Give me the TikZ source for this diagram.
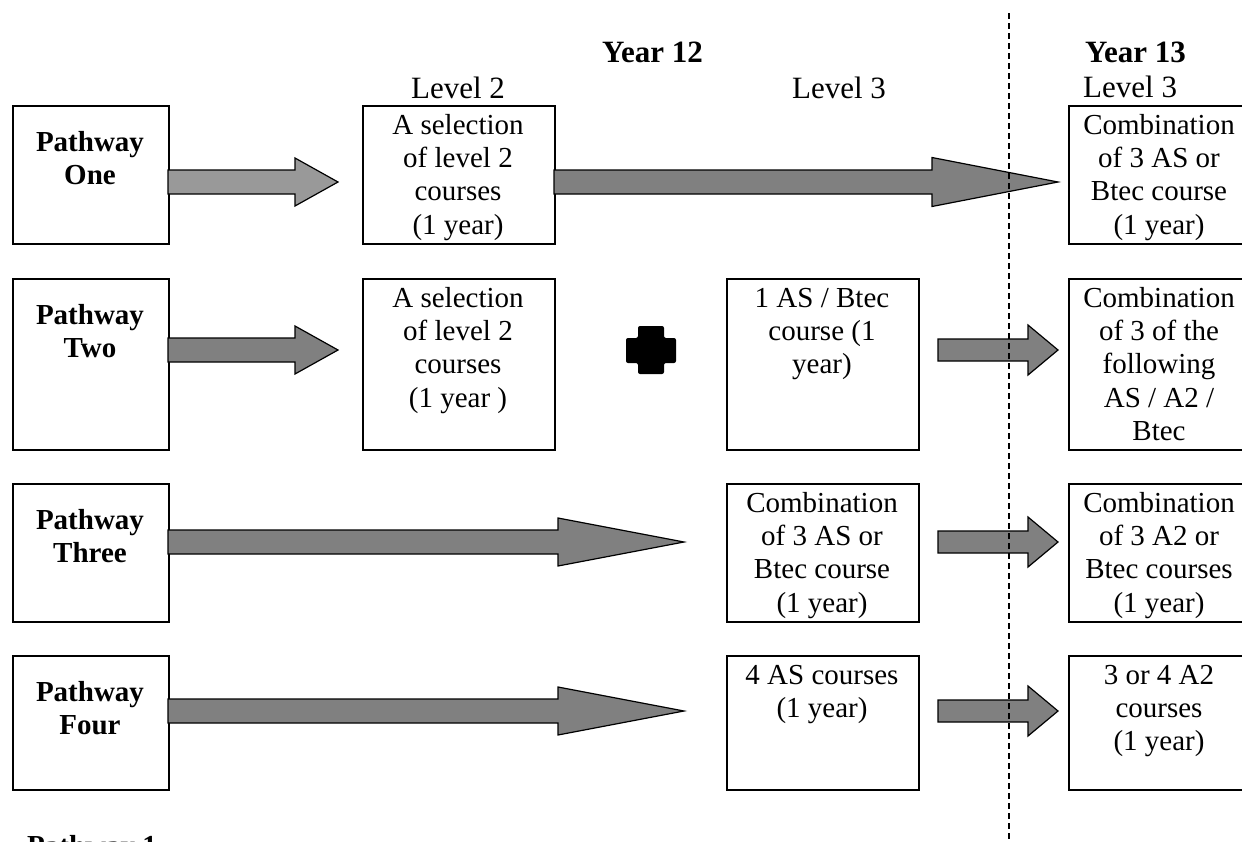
\documentclass[tikz,border=0pt]{standalone}
\usepackage{fontspec}
\setmainfont{Liberation Serif}
\definecolor{lightarrow}{HTML}{999999}
\definecolor{darkarrow}{HTML}{808080}
\newcommand\blockarrow[7]{%
  \filldraw[blk,fill=#7] (#1,{#4-#5}) -- (#2,{#4-#5}) -- (#2,{#4-#6}) -- (#3,#4)
    -- (#2,{#4+#6}) -- (#2,{#4+#5}) -- (#1,{#4+#5}) -- cycle;}
\begin{document}
\begin{tikzpicture}[x=1pt,y=-1pt,
  box/.style={draw,line width=1.8pt,inner sep=0pt,anchor=north west},
  txt/.style={inner sep=0pt,anchor=north,align=center,font=\fontsize{29}{33.3}\selectfont},
  ptxt/.style={inner sep=0pt,anchor=north,align=center,font=\fontsize{29}{33}\selectfont\bfseries},
  head/.style={inner sep=0pt,anchor=base,font=\fontsize{31}{36}\selectfont},
  blk/.style={draw=black,line width=1.2pt,line join=miter},
]
\clip (0,0) rectangle (1242,841);
% headers
\node[head,font=\fontsize{31}{36}\selectfont\bfseries,anchor=base west] (y12) at (602,62) {Year 12};
\node[head,font=\fontsize{31}{36}\selectfont\bfseries,anchor=base west] (y13) at (1085,62) {Year 13};
\node[head] (lv2) at (458,98) {Level 2};
\node[head] (lv3) at (839,98) {Level 3};
\node[head,anchor=base west] (lv3b) at (1083,97) {Level 3};
% row 1
\node[box,minimum width=156pt,minimum height=138pt] (p1) at (12,105) {};
\node[ptxt] (p1t) at (90,129) {\rule{0pt}{22pt}Pathway\\One};
\node[box,minimum width=192pt,minimum height=138pt] (l1) at (362,105) {};
\node[txt] (l1t) at (458,112) {\rule{0pt}{22pt}A selection\\of level 2\\courses\\(1 year)};
\node[box,minimum width=182pt,minimum height=138pt] (r1) at (1068,105) {};
\node[txt] (r1t) at (1159,112) {\rule{0pt}{22pt}Combination\\of 3 AS or\\Btec course\\(1 year)};
\blockarrow{168}{295}{338}{182}{12}{24}{lightarrow}
\blockarrow{554}{932}{1058}{182}{12}{24.5}{darkarrow}
% row 2
\node[box,minimum width=156pt,minimum height=171pt] (p2) at (12,278) {};
\node[ptxt] (p2t) at (90,302) {\rule{0pt}{22pt}Pathway\\Two};
\node[box,minimum width=192pt,minimum height=171pt] (l2) at (362,278) {};
\node[txt] (l2t) at (458,285) {\rule{0pt}{22pt}A selection\\of level 2\\courses\\(1 year )};
\node[box,minimum width=192pt,minimum height=171pt] (m2) at (726,278) {};
\node[txt] (m2t) at (822,285) {\rule{0pt}{22pt}1 AS / Btec\\course (1\\year)};
\node[box,minimum width=182pt,minimum height=171pt] (r2) at (1068,278) {};
\node[txt] (r2t) at (1159,285) {\rule{0pt}{22pt}Combination\\of 3 of the\\following\\AS / A2 /\\Btec};
\fill[rounded corners=2pt] (638,326) -- (664,326) -- (664,338) -- (676,338) -- (676,363)
  -- (664,363) -- (664,374) -- (638,374) -- (638,363) -- (626,363) -- (626,338) -- (638,338) -- cycle;
\blockarrow{168}{295}{338}{350}{12}{24}{darkarrow}
\blockarrow{938}{1028}{1058}{350}{11}{25}{darkarrow}
% row 3
\node[box,minimum width=156pt,minimum height=138pt] (p3) at (12,483) {};
\node[ptxt] (p3t) at (90,507) {\rule{0pt}{22pt}Pathway\\Three};
\node[box,minimum width=192pt,minimum height=138pt] (m3) at (726,483) {};
\node[txt] (m3t) at (822,490) {\rule{0pt}{22pt}Combination\\of 3 AS or\\Btec course\\(1 year)};
\node[box,minimum width=182pt,minimum height=138pt] (r3) at (1068,483) {};
\node[txt] (r3t) at (1159,490) {\rule{0pt}{22pt}Combination\\of 3 A2 or\\Btec courses\\(1 year)};
\blockarrow{168}{558}{684}{542}{12}{24}{darkarrow}
\blockarrow{938}{1028}{1058}{542}{11}{25}{darkarrow}
% row 4
\node[box,minimum width=156pt,minimum height=134pt] (p4) at (12,655) {};
\node[ptxt] (p4t) at (90,679) {\rule{0pt}{22pt}Pathway\\Four};
\node[box,minimum width=192pt,minimum height=134pt] (m4) at (726,655) {};
\node[txt] (m4t) at (822,662) {\rule{0pt}{22pt}4 AS courses\\(1 year)};
\node[box,minimum width=182pt,minimum height=134pt] (r4) at (1068,655) {};
\node[txt] (r4t) at (1159,662) {\rule{0pt}{22pt}3 or 4 A2\\courses\\(1 year)};
\blockarrow{168}{558}{684}{711}{12}{24}{darkarrow}
\blockarrow{938}{1028}{1058}{711}{11}{25}{darkarrow}
% bottom label
\node[inner sep=0pt,anchor=base west,font=\fontsize{29}{33}\selectfont\bfseries] (pw1) at (27,855) {Pathway 1};
% divider
\coordinate (dtop) at (1009,13);
\coordinate (dbot) at (1009,841);
\draw[line width=1.5pt,dash pattern=on 6pt off 4pt] (dtop) -- (dbot);
\end{tikzpicture}
\end{document}
